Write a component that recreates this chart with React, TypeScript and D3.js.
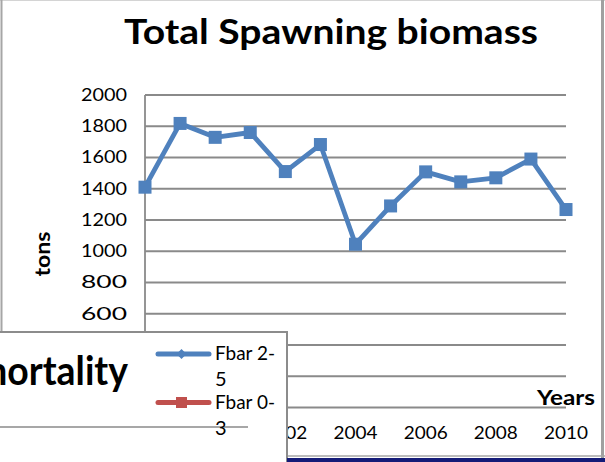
import React from "react";
import * as d3 from "d3";

const years = ["1998", "1999", "2000", "2001", "2002", "2003", "2004", "2005", "2006", "2007", "2008", "2009", "2010"];
const biomass = [1410, 1818, 1729, 1760, 1510, 1683, 1045, 1290, 1508, 1444, 1470, 1590, 1267];
const yTicks = [0, 200, 400, 600, 800, 1000, 1200, 1400, 1600, 1800, 2000];
const yTickLabels = [600, 800, 1000, 1200, 1400, 1600, 1800, 2000];
const xTickLabels = ["2002", "2004", "2006", "2008", "2010"];
const legendItems = [
  { line1: "Fbar 2-", line2: "5", color: "#4F81BD", marker: "diamond" },
  { line1: "Fbar 0-", line2: "3", color: "#C0504D", marker: "square" },
];
const title = "Total Spawning biomass";
const yTitle = "tons";
const xTitle = "Years";
const hiddenTitle = "mortality";

const FONT = "Lato, 'Open Sans', sans-serif";
const GRID = "#8a8a8a";

export default function App() {
  const x = d3.scalePoint<string>().domain(years).range([145, 566]).padding(0);
  const y = d3.scaleLinear().domain([0, 2000]).range([407.5, 95]);
  const line = d3
    .line<number>()
    .x((_, i) => x(years[i]) as number)
    .y((d) => y(d));
  const sq = 13;

  return (
    <svg
      width={605}
      height={462}
      style={{ position: "absolute", left: 0, top: 0, background: "#fff" }}
      fontFamily={FONT}
    >
      <rect x={0} y={0} width={605} height={462} fill="#fff" />
      {/* main chart frame */}
      <line x1={0} x2={605} y1={0.5} y2={0.5} stroke="#d4d4d4" strokeWidth={1} />
      <line x1={1.5} x2={1.5} y1={0} y2={462} stroke="#a6a6a6" strokeWidth={2} />
      <line x1={602.5} x2={602.5} y1={0} y2={462} stroke="#a0a0a0" strokeWidth={3} />
      <line x1={0} x2={605} y1={456} y2={456} stroke="#a6a6a6" strokeWidth={1.5} />

      {/* title */}
      <text
        x={124}
        y={44}
        fontSize={34}
        fontWeight="bold"
        textLength={414}
        lengthAdjust="spacingAndGlyphs"
        fill="#000"
      >
        {title}
      </text>

      {/* gridlines */}
      {yTicks.map((t) => (
        <line key={t} x1={145} x2={566} y1={y(t)} y2={y(t)} stroke={GRID} strokeWidth={1.8} />
      ))}
      <line x1={145} x2={145} y1={y(2000)} y2={y(0)} stroke={GRID} strokeWidth={1.8} />

      {/* y tick labels */}
      {yTickLabels.map((t) => (
        <text
          key={t}
          x={81}
          y={y(t) + 5.8}
          fontSize={16.5}
          textLength={46}
          lengthAdjust="spacingAndGlyphs"
          fill="#000"
        >
          {String(t)}
        </text>
      ))}

      {/* x tick labels */}
      {xTickLabels.map((l) => (
        <text
          key={l}
          x={(x(l) as number) - 22}
          y={438.5}
          fontSize={16.5}
          textLength={44}
          lengthAdjust="spacingAndGlyphs"
          fill="#000"
        >
          {l}
        </text>
      ))}

      {/* axis titles */}
      <text
        x={537}
        y={405}
        fontSize={21}
        fontWeight="bold"
        textLength={58}
        lengthAdjust="spacingAndGlyphs"
        fill="#000"
      >
        {xTitle}
      </text>
      <text
        transform="translate(49.5,276.5) rotate(-90)"
        x={0}
        y={0}
        fontSize={21}
        fontWeight="bold"
        textLength={45}
        lengthAdjust="spacingAndGlyphs"
        fill="#000"
      >
        {yTitle}
      </text>

      {/* series */}
      <path d={line(biomass) || ""} fill="none" stroke="#4F81BD" strokeWidth={4.8} strokeLinejoin="round" />
      {biomass.map((v, i) => (
        <rect
          key={i}
          x={(x(years[i]) as number) - sq / 2}
          y={y(v) - sq / 2}
          width={sq}
          height={sq}
          fill="#4F81BD"
        />
      ))}

      {/* overlapping second chart */}
      <rect x={-10} y={332} width={297} height={200} fill="#fff" stroke="#8c8c8c" strokeWidth={2} />
      <line x1={0} x2={248} y1={427} y2={427} stroke={GRID} strokeWidth={1.5} />
      <text
        x={-24}
        y={385}
        fontSize={40}
        fontWeight="bold"
        textLength={152}
        lengthAdjust="spacingAndGlyphs"
        fill="#000"
      >
        {hiddenTitle}
      </text>
      {legendItems.map((it, i) => {
        const cy = 354 + i * 48.5;
        return (
          <g key={it.line1}>
            <line x1={158} x2={209} y1={cy} y2={cy} stroke={it.color} strokeWidth={5} strokeLinecap="round" />
            {it.marker === "diamond" ? (
              <path
                d={`M181.5,${cy - 5} L186.5,${cy} L181.5,${cy + 5} L176.5,${cy} Z`}
                fill={it.color}
              />
            ) : (
              <rect x={176} y={cy - 5.5} width={11} height={11} fill={it.color} />
            )}
            <text
              x={215}
              y={cy + 6}
              fontSize={20}
              textLength={60}
              lengthAdjust="spacingAndGlyphs"
              fill="#000"
            >
              {it.line1}
            </text>
            <text x={215} y={cy + 32} fontSize={20} fill="#000">
              {it.line2}
            </text>
          </g>
        );
      })}

      {/* dark bar at bottom */}
      <rect x={287} y={458} width={318} height={4} fill="#141b78" />
    </svg>
  );
}
